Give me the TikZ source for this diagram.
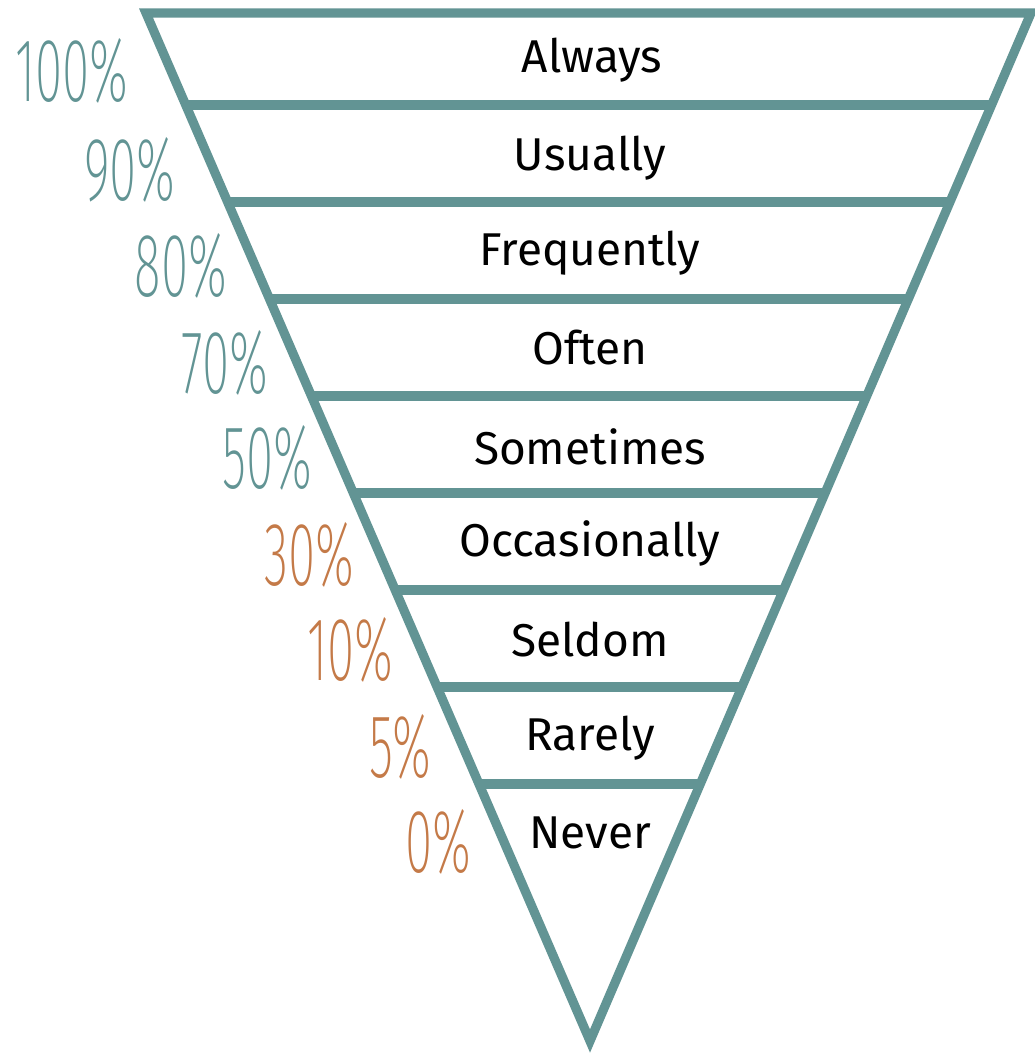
\documentclass[tikz,border=0pt]{standalone}
\usepackage{fontspec}
\setmainfont{Fira Sans}
\newfontfamily\pctfont{Fira Sans ExtraLight}
\usepackage{xcolor}
\usetikzlibrary{calc}
\definecolor{funnelteal}{RGB}{98,148,148}
\definecolor{pctorange}{RGB}{196,122,72}

\begin{document}
\begin{tikzpicture}[
    x=0.5pt, y=-0.5pt,
    edge/.style={draw=funnelteal, line width=4.6pt},
    freq/.style={font=\fontsize{23}{26}\selectfont, text=black, inner sep=0pt},
    pct/.style={font=\fontsize{45}{46}\pctfont, inner sep=0pt},
    pcthi/.style={pct, text=funnelteal},
    pctlo/.style={pct, text=pctorange}
]
\useasboundingbox (0,0) rectangle (1035,1057);
% outer triangle
\coordinate (tl) at (146,13);
\coordinate (tr) at (1031,13);
\coordinate (apex) at (590,1041);
\draw[edge, line join=miter] (tl) -- (tr) -- (apex) -- cycle;
% band separators
\foreach \y in {105,202,299,396,493,590,687,784}
  \draw[edge] ($(tl)!{(\y-13)/1028}!(apex)$) -- ($(tr)!{(\y-13)/1028}!(apex)$);
% frequency words
\node[freq] (always) at (592,60) {Always};
\node[freq] (usually) at (590,158) {Usually};
\node[freq] (frequently) at (590,253) {Frequently};
\node[freq] (often) at (590,348) {Often};
\node[freq] (sometimes) at (590,447) {Sometimes};
\node[freq] (occasionally) at (590,543) {Occasionally};
\node[freq] (seldom) at (590,640) {Seldom};
\node[freq] (rarely) at (590,738) {Rarely};
\node[freq] (never) at (590,833) {Never};
% percentages
\node[pcthi] (p100) at (72,71) {\scalebox{0.55}[1]{100\%}};
\node[pcthi] (p90) at (130,170) {\scalebox{0.55}[1]{90\%}};
\node[pcthi] (p80) at (181,266) {\scalebox{0.55}[1]{80\%}};
\node[pcthi] (p70) at (225,363) {\scalebox{0.55}[1]{70\%}};
\node[pcthi] (p50) at (267,458) {\scalebox{0.55}[1]{50\%}};
\node[pctlo] (p30) at (309,555) {\scalebox{0.55}[1]{30\%}};
\node[pctlo] (p10) at (350,650) {\scalebox{0.55}[1]{10\%}};
\node[pctlo] (p5) at (400,747) {\scalebox{0.55}[1]{5\%}};
\node[pctlo] (p0) at (438,842) {\scalebox{0.55}[1]{0\%}};
\end{tikzpicture}
\end{document}
